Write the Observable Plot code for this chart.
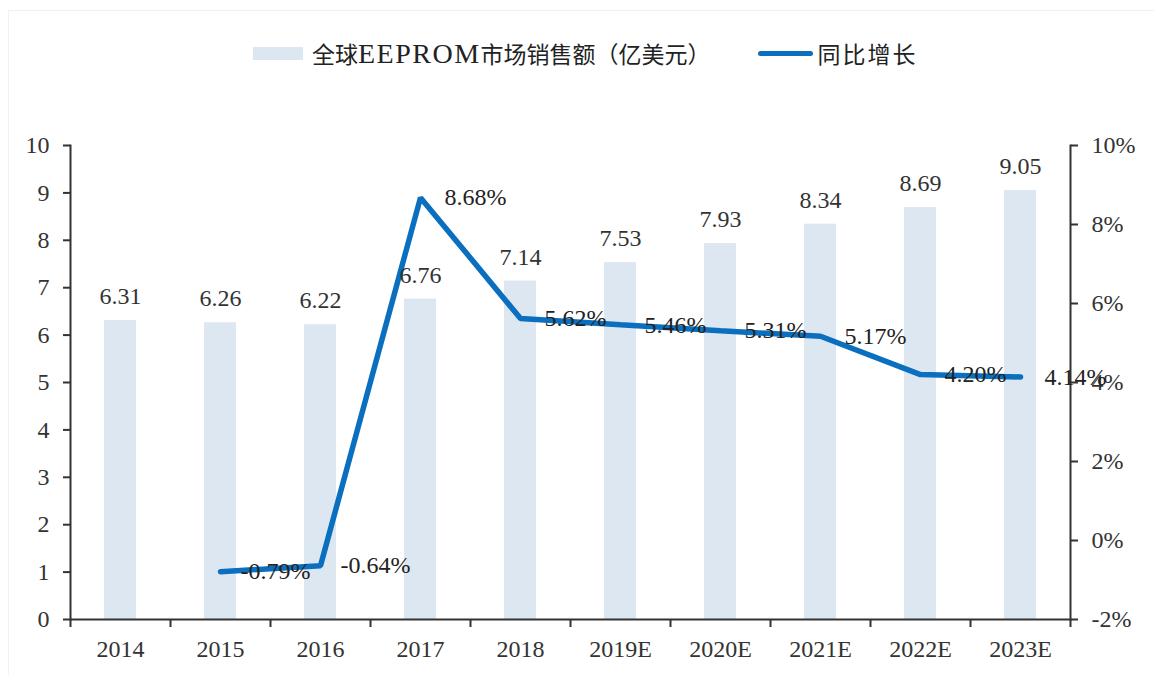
<!DOCTYPE html>
<html>
<head>
<meta charset="utf-8">
<script src="https://cdn.jsdelivr.net/npm/d3@7"></script>
<script src="https://cdn.jsdelivr.net/npm/@observablehq/plot@0.6"></script>
<style>
  html, body { margin: 0; padding: 0; background: #fff; }
  #wrap { position: relative; width: 1154px; height: 675px; overflow: hidden; }
  #border { position: absolute; left: 8px; top: 10px; right: -2px; bottom: -2px; border: 1px solid #f0f0f0; pointer-events: none; }
  #legend { position: absolute; left: 253px; top: 38px; height: 30px; display: flex; align-items: center; white-space: nowrap;
            font-family: "Noto Sans CJK SC", sans-serif; font-size: 23px; color: #222; }
  .item { display: flex; align-items: center; }
  .sw-bar { width: 50px; height: 13px; background: #dde7f2; margin-right: 9px; }
  .sw-line { width: 55px; height: 5px; background: #0a6fbf; border-radius: 3px; margin-left: 47px; margin-right: 5px; }
  .lat { font-family: "Liberation Serif", serif; font-size: 28px; letter-spacing: 1.5px; }
  .t2 { letter-spacing: 2px; }
  #chart { position: absolute; left: 0; top: 100px; }
  #chart svg { display: block; }
</style>
</head>
<body>
<div id="wrap">
  <div id="border"></div>
  <div id="legend"></div>
  <div id="chart"></div>
</div>
<script>
const years = ["2014", "2015", "2016", "2017", "2018", "2019E", "2020E", "2021E", "2022E", "2023E"];
const sales = [6.31, 6.26, 6.22, 6.76, 7.14, 7.53, 7.93, 8.34, 8.69, 9.05];
const growth = [null, -0.79, -0.64, 8.68, 5.62, 5.46, 5.31, 5.17, 4.20, 4.14];
const leftTicks = [0, 1, 2, 3, 4, 5, 6, 7, 8, 9, 10];
const rightTicks = [-2, 0, 2, 4, 6, 8, 10];
const seriesNames = ["全球EEPROM市场销售额（亿美元）", "同比增长"];

const barColor = "#dde7f2";
const lineColor = "#0a6fbf";
const textColor = "#333";
const serif = "'Liberation Serif', 'Times New Roman', serif";

// map percent (right axis, -2..10) onto left scale (0..10)
const pMin = -2, pMax = 10, yMax = 10;
const toY = p => (p - pMin) / (pMax - pMin) * yMax;
const fromY = v => Math.round(v * (pMax - pMin) / yMax + pMin);

const barData = years.map((year, i) => ({year, value: sales[i]}));
const lineData = years.map((year, i) => ({year, growth: growth[i]})).filter(d => d.growth !== null);

// legend (Latin part of first name in serif)
const name0 = seriesNames[0].replace(/([A-Za-z]+)/, '<span class="lat">$1</span>');
document.getElementById("legend").innerHTML = `
  <div class="item"><div class="sw-bar"></div><span>${name0}</span></div>
  <div class="item"><div class="sw-line"></div><span class="t2">${seriesNames[1]}</span></div>`;

const chart = Plot.plot({
  width: 1154,
  height: 575,
  marginTop: 45,
  marginBottom: 56,
  marginLeft: 70,
  marginRight: 84,
  style: {fontFamily: serif, fontSize: "24px", color: textColor, background: "transparent"},
  x: {type: "band", domain: years, paddingInner: 0.68, paddingOuter: 0.34, axis: null, label: null},
  y: {domain: [0, 10], axis: null, label: null},
  marks: [
    Plot.barY(barData, {x: "year", y: "value", fill: barColor}),
    // axis lines
    Plot.frame({anchor: "left", stroke: textColor, strokeWidth: 2}),
    Plot.frame({anchor: "right", stroke: textColor, strokeWidth: 2}),
    Plot.ruleY([0], {stroke: textColor, strokeWidth: 2}),
    // left axis
    Plot.axisY({anchor: "left", label: null, ticks: leftTicks, tickSize: 7, tickPadding: 14, tickFormat: d => d, color: textColor, fontSize: 24, fontFamily: serif, strokeWidth: 2}),
    // right axis
    Plot.axisY({anchor: "right", label: null, ticks: rightTicks.map(toY), tickSize: 7, tickPadding: 14, tickFormat: v => fromY(v) + "%", color: textColor, fontSize: 24, fontFamily: serif, strokeWidth: 2}),
    // x axis boundary ticks
    Plot.axisX({label: null, ticks: years, tickSize: 8, tickFormat: () => "", dx: -50, color: textColor, strokeWidth: 2}),
    Plot.axisX({label: null, ticks: years.slice(-1), tickSize: 8, tickFormat: () => "", dx: 50, color: textColor, strokeWidth: 2}),
    // x labels
    Plot.axisX({label: null, ticks: years, tickSize: 0, tickPadding: 20, color: textColor, fontSize: 24, fontFamily: serif}),
    // growth line
    Plot.line(lineData, {x: "year", y: d => toY(d.growth), stroke: lineColor, strokeWidth: 5.5, strokeLinejoin: "miter", strokeLinecap: "round"}),
    // bar labels
    Plot.text(barData, {x: "year", y: "value", text: d => d.value.toFixed(2), dy: -24, fill: textColor, fontSize: 24, fontFamily: serif}),
    // growth labels
    Plot.text(lineData, {x: "year", y: d => toY(d.growth), text: d => d.growth.toFixed(2) + "%", dx: 55, fill: "#222", fontSize: 24, fontFamily: serif})
  ]
});
document.getElementById("chart").appendChild(chart);
</script>
</body>
</html>
